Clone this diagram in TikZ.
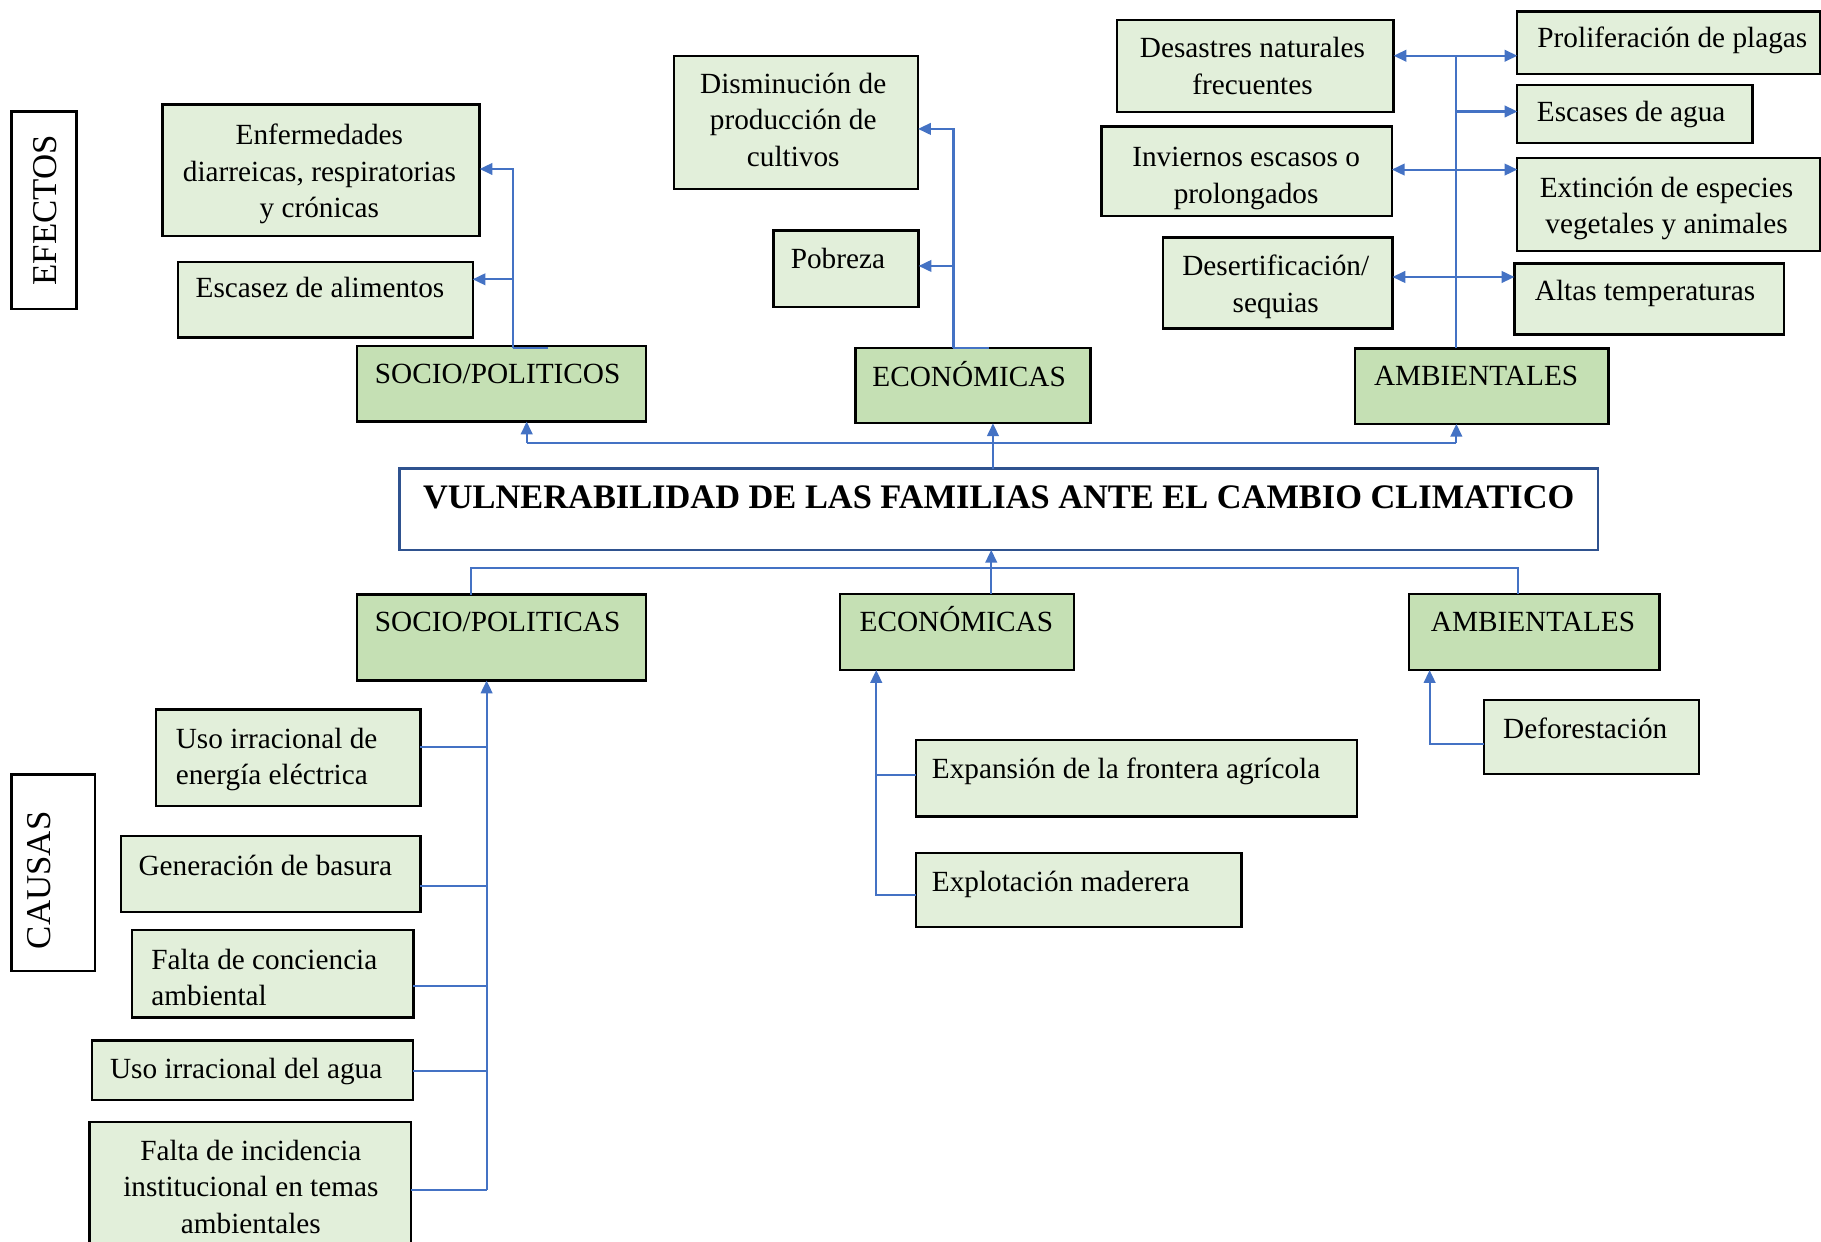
\documentclass[tikz,border=0pt]{standalone}
\usepackage{fontspec}
\setmainfont{Liberation Serif}
\usetikzlibrary{arrows.meta}
\definecolor{lg}{HTML}{E2EFDA}
\definecolor{dg}{HTML}{C5E0B4}
\definecolor{ln}{HTML}{4472C4}
\definecolor{nv}{HTML}{2F528F}
\tikzset{
  lbox/.style={draw=black, line width=1pt, fill=lg, anchor=north west, inner sep=0pt, outer sep=0pt},
  dbox/.style={lbox, fill=dg},
  sbox/.style={draw=black, line width=1pt, fill=white, anchor=north west, inner sep=0pt, outer sep=0pt},
  tbox/.style={draw=nv, line width=1.1pt, fill=white, anchor=north west, inner sep=0pt, outer sep=0pt},
  txt/.style={inner sep=0pt, align=center, font=\fontsize{12.6}{15.75}\selectfont},
  ltxt/.style={txt, align=left, anchor=west},
  stxt/.style={inner sep=0pt, text height=10.5pt, text depth=1.5pt, font=\fontsize{12.6}{15.75}\selectfont},
  sltxt/.style={stxt, anchor=west},
  rtxt/.style={inner sep=0pt, rotate=90, font=\fontsize{15}{18}\selectfont},
  conn/.style={draw=ln, line width=0.9pt},
  arr/.style={conn, -{Triangle[length=5.5pt,width=5pt]}}
}
\begin{document}
\begin{tikzpicture}[x=0.5pt,y=-0.5pt]
\useasboundingbox (0,0) rectangle (1568,1069);
\fill[white] (0,0) rectangle (1568,1069);

% ---------- EFECTOS ----------
\node[sbox, minimum width=28pt, minimum height=85pt] (efectos) at (10,96) {};
\node[rtxt] (efectos-t) at (38.5,181) {EFECTOS};

\node[lbox, minimum width=136.5pt, minimum height=56.5pt] (enf) at (140,90) {};
\node[txt] (enf-t) at (275,150) {Enfermedades\\diarreicas, respiratorias\\y crónicas};
\node[lbox, minimum width=127pt, minimum height=32.5pt] (esc) at (153,225.5) {};
\node[stxt] (esc-t) at (275.5,247) {Escasez de alimentos};
\node[dbox, minimum width=124.25pt, minimum height=32.5pt] (sp1) at (307.5,298) {};
\node[stxt] (sp1-t) at (428.5,321.5) {SOCIO/POLITICOS};

\node[lbox, minimum width=105pt, minimum height=57.5pt] (dis) at (580.5,48) {};
\node[txt] (dis-t) at (683,103) {Disminución de\\producción de\\cultivos};
\node[lbox, minimum width=62.5pt, minimum height=33pt] (pob) at (666,198.5) {};
\node[stxt] (pob-t) at (721.5,222) {Pobreza};
\node[dbox, minimum width=101.25pt, minimum height=32.5pt] (eco1) at (736.5,299.5) {};
\node[stxt] (eco1-t) at (834.5,323.5) {ECONÓMICAS};

\node[lbox, minimum width=119pt, minimum height=39.5pt] (des) at (962,17.5) {};
\node[txt] (des-t) at (1078.5,57) {Desastres naturales\\frecuentes};
\node[lbox, minimum width=125pt, minimum height=38.5pt] (inv) at (948.5,109) {};
\node[txt] (inv-t) at (1073,153.5) {Inviernos escasos o\\prolongados};
\node[lbox, minimum width=98.75pt, minimum height=39.25pt] (dese) at (1001.5,204.5) {};
\node[txt] (dese-t) at (1098.5,247) {Desertificación/\\sequias};
\node[lbox, minimum width=130.5pt, minimum height=27pt] (pro) at (1306.5,10) {};
\node[stxt] (pro-t) at (1440,32) {Proliferación de plagas};
\node[lbox, minimum width=101.25pt, minimum height=25pt] (escag) at (1306.5,73) {};
\node[stxt] (escag-t) at (1404.5,95.5) {Escases de agua};
\node[lbox, minimum width=130.5pt, minimum height=40pt] (ext) at (1306.5,136) {};
\node[txt] (ext-t) at (1435,179.5) {Extinción de especies\\vegetales y animales};
\node[lbox, minimum width=116pt, minimum height=30.5pt] (alt) at (1304,227) {};
\node[stxt] (alt-t) at (1416.5,250) {Altas temperaturas};
\node[dbox, minimum width=109pt, minimum height=32.5pt] (amb1) at (1167,300) {};
\node[stxt] (amb1-t) at (1271,323) {AMBIENTALES};

% ---------- TITLE ----------
\node[tbox, minimum width=516pt, minimum height=35pt] (title) at (344,403.5) {};
\node[inner sep=0pt, font=\fontsize{14.8}{18}\selectfont\bfseries] (title-t) at (860,428) {VULNERABILIDAD DE LAS FAMILIAS ANTE EL CAMBIO CLIMATICO};

% ---------- CAUSAS ----------
\node[dbox, minimum width=124.25pt, minimum height=37pt] (sp2) at (307.5,512) {};
\node[stxt] (sp2-t) at (428.5,535) {SOCIO/POLITICAS};
\node[dbox, minimum width=100.5pt, minimum height=32.75pt] (eco2) at (723.5,511.5) {};
\node[stxt] (eco2-t) at (823.5,535) {ECONÓMICAS};
\node[dbox, minimum width=108pt, minimum height=32.75pt] (amb2) at (1213,511.5) {};
\node[stxt] (amb2-t) at (1320,535) {AMBIENTALES};

\node[sbox, minimum width=36pt, minimum height=84.5pt] (causas) at (10,667) {};
\node[rtxt] (causas-t) at (34,758) {CAUSAS};

\node[lbox, minimum width=113.75pt, minimum height=41.5pt] (uso1) at (134.5,611) {};
\node[ltxt] (uso1-t) at (151,654) {Uso irracional de\\energía eléctrica};
\node[lbox, minimum width=129pt, minimum height=32.5pt] (gen) at (104,720) {};
\node[stxt] (gen-t) at (228.5,745) {Generación de basura};
\node[lbox, minimum width=121.25pt, minimum height=37.5pt] (fal1) at (113.5,801) {};
\node[ltxt] (fal1-t) at (130,841.5) {Falta de conciencia\\ambiental};
\node[lbox, minimum width=138pt, minimum height=25.5pt] (agua) at (79.5,896) {};
\node[stxt] (agua-t) at (212,920) {Uso irracional del agua};
\node[lbox, minimum width=138.5pt, minimum height=55pt] (fal2) at (77,966) {};
\node[txt] (fal2-t) at (216,1022) {Falta de incidencia\\institucional en temas\\ambientales};

\node[lbox, minimum width=190pt, minimum height=33pt] (expa) at (788.5,637) {};
\node[sltxt] (expa-t) at (802,661) {Expansión de la frontera agrícola};
\node[lbox, minimum width=140.25pt, minimum height=31.75pt] (explo) at (788.5,734.5) {};
\node[sltxt] (explo-t) at (802,759) {Explotación maderera};
\node[lbox, minimum width=92.5pt, minimum height=32pt] (defo) at (1278,602.5) {};
\node[stxt] (defo-t) at (1365,626.5) {Deforestación};

% ---------- CONNECTORS: effects ----------
\coordinate (j1) at (441.5,300);
\coordinate (j1a) at (441.5,145.5);
\coordinate (j1b) at (441.5,240.5);
\coordinate (j1c) at (472,300);
\draw[conn] (j1) -- (j1c);
\draw[arr] (j1) -- (j1a) -- (j1a -| enf.east);
\draw[arr] (j1b) -- (j1b -| esc.east);

\coordinate (j2) at (821,300);
\coordinate (j2a) at (821,111);
\coordinate (j2b) at (821,229);
\coordinate (j2c) at (852,300);
\draw[conn] (j2) -- (j2c);
\draw[arr] (j2) -- (j2a) -- (j2a -| dis.east);
\draw[arr] (j2b) -- (j2b -| pob.east);

\coordinate (j3) at (1254,300);
\coordinate (a1) at (1254,48);
\coordinate (a2) at (1254,96);
\coordinate (a3) at (1254,146);
\coordinate (a4) at (1254,238.5);
\draw[conn] (j3) -- (a1);
\draw[arr] (a1) -- (a1 -| des.east);
\draw[arr] (a1) -- (a1 -| pro.west);
\draw[arr] (a2) -- (a2 -| escag.west);
\draw[arr] (a3) -- (a3 -| inv.east);
\draw[arr] (a3) -- (a3 -| ext.west);
\draw[arr] (a4) -- (a4 -| dese.east);
\draw[arr] (a4) -- (a4 -| alt.west);

% ---------- CONNECTORS: title to effects ----------
\coordinate (t0) at (453.5,381.5);
\coordinate (t1) at (855,381.5);
\coordinate (t2) at (1254,381.5);
\draw[conn] (t0) -- (t2);
\draw[conn] (t1 |- title.north) -- (t1);
\draw[arr] (t0) -- (t0 |- sp1.south);
\draw[arr] (t1) -- (t1 |- eco1.south);
\draw[arr] (t2) -- (t2 |- amb1.south);

% ---------- CONNECTORS: causes to title ----------
\coordinate (b0) at (405.5,489);
\coordinate (b1) at (853.5,489);
\coordinate (b2) at (1307,489);
\draw[conn] (b0 |- sp2.north) -- (b0) -- (b2) -- (b2 |- amb2.north);
\draw[arr] (b1 |- eco2.north) -- (b1 |- title.south);

% ---------- CONNECTORS: causes ----------
\coordinate (c0) at (419,1025);
\coordinate (c1) at (419,643);
\coordinate (c2) at (419,763);
\coordinate (c3) at (419,849);
\coordinate (c4) at (419,922);
\draw[arr] (c0) -- (c0 |- sp2.south);
\draw[conn] (c1 -| uso1.east) -- (c1);
\draw[conn] (c2 -| gen.east) -- (c2);
\draw[conn] (c3 -| fal1.east) -- (c3);
\draw[conn] (c4 -| agua.east) -- (c4);
\draw[conn] (c0 -| fal2.east) -- (c0);

\coordinate (e0) at (754.5,771);
\coordinate (e1) at (754.5,667.5);
\draw[arr] (e0 -| explo.west) -- (e0) -- (e0 |- eco2.south);
\draw[conn] (e1) -- (e1 -| expa.west);

\coordinate (d0) at (1231,641);
\draw[arr] (d0 -| defo.west) -- (d0) -- (d0 |- amb2.south);
\end{tikzpicture}
\end{document}
